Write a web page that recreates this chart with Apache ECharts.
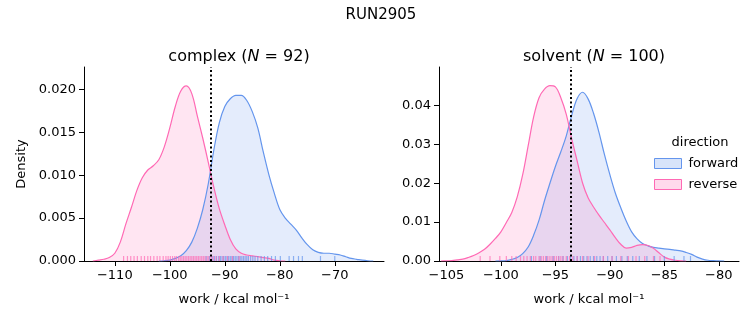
<!DOCTYPE html>
<html>
<head>
<meta charset="utf-8">
<script src="https://cdn.jsdelivr.net/npm/echarts@6/dist/echarts.min.js"></script>
<style>html,body{margin:0;padding:0;background:#fff}#c{width:753px;height:325px}</style>
</head>
<body>
<div id="c"></div>
<script>
// ---- data ----
// complex: density read at work = -114 ... -63 (step 1)
var complexWork = [-114,-113,-112,-111,-110,-109,-108,-107,-106,-105,-104,-103,-102,-101,-100,-99,-98,-97,-96,-95,-94,-93,-92,-91,-90,-89,-88,-87,-86,-85,-84,-83,-82,-81,-80,-79,-78,-77,-76,-75,-74,-73,-72,-71,-70,-69,-68,-67,-66,-65,-64,-63];
var complexReverse = [0,0.0001,0.0002,0.0004,0.0009,0.0022,0.0043,0.0062,0.0082,0.0097,0.0106,0.0111,0.0118,0.0133,0.0155,0.0180,0.0198,0.0204,0.0195,0.0169,0.0143,0.0115,0.0086,0.0061,0.0042,0.0025,0.0014,0.0009,0.0007,0.0006,0.0005,0.0004,0.0003,0.0001,0.00003,0,null,null,null,null,null,null,null,null,null,null,null,null,null,null,null,null];
var complexForward = [null,null,null,null,null,null,null,null,null,null,null,null,0,0.00003,0.0001,0.0003,0.0006,0.0012,0.0022,0.0038,0.0060,0.0090,0.0129,0.0161,0.0180,0.0189,0.0193,0.0193,0.0187,0.0174,0.0155,0.0127,0.0101,0.0079,0.0060,0.0050,0.0043,0.0036,0.0027,0.0019,0.0013,0.0010,0.0009,0.0009,0.0008,0.0007,0.0005,0.0003,0.0002,0.0001,0.00003,0];
// solvent: density read at work = -105.5 ... -79.5 (step 0.5)
var solventWork = [-105.5,-105,-104.5,-104,-103.5,-103,-102.5,-102,-101.5,-101,-100.5,-100,-99.5,-99,-98.5,-98,-97.5,-97,-96.5,-96,-95.5,-95,-94.5,-94,-93.5,-93,-92.5,-92,-91.5,-91,-90.5,-90,-89.5,-89,-88.5,-88,-87.5,-87,-86.5,-86,-85.5,-85,-84.5,-84,-83.5,-83,-82.5,-82,-81.5,-81,-80.5,-80,-79.5];
var solventReverse = [0,0.00005,0.0001,0.0003,0.0005,0.0009,0.0014,0.0021,0.0030,0.0043,0.0058,0.0075,0.0099,0.0125,0.0165,0.0222,0.0296,0.0370,0.0420,0.0442,0.0451,0.0448,0.0420,0.0377,0.0314,0.0257,0.0200,0.0163,0.0139,0.0118,0.0099,0.0080,0.0060,0.0043,0.0033,0.0035,0.0040,0.0042,0.0040,0.0033,0.0021,0.0010,0.0005,0.0002,0.00005,0,null,null,null,null,null,null,null];
var solventForward = [null,null,null,null,null,null,null,null,null,null,0,0.00003,0.0001,0.0004,0.0009,0.0019,0.0036,0.0066,0.0105,0.0155,0.0200,0.0243,0.0281,0.0322,0.0375,0.0418,0.0434,0.0417,0.0380,0.0331,0.0274,0.0222,0.0175,0.0137,0.0103,0.0075,0.0057,0.0045,0.0039,0.0035,0.0033,0.0031,0.0030,0.0028,0.0026,0.0022,0.0017,0.0010,0.0005,0.0002,0.0001,0.00003,0];

var complexReverseRug = [-108.4,-107.7,-107.1,-106.5,-105.9,-105.2,-104.6,-104.0,-103.5,-102.9,-102.3,-101.8,-101.2,-100.7,-100.3,-99.9,-99.5,-99.1,-98.8,-98.4,-98.1,-97.8,-97.5,-97.2,-96.9,-96.6,-96.3,-96.0,-95.7,-95.4,-95.1,-94.8,-94.5,-94.2,-93.9,-93.6,-93.2,-92.9,-92.5,-92.1,-91.6,-91.0,-90.3,-89.5,-88.6,-87.4];
var complexForwardRug = [-93.4,-92.8,-92.3,-91.9,-91.5,-91.1,-90.8,-90.5,-90.2,-89.9,-89.6,-89.3,-89.0,-88.7,-88.4,-88.1,-87.8,-87.5,-87.2,-86.9,-86.6,-86.3,-86.0,-85.7,-85.3,-84.9,-84.5,-84.0,-83.4,-82.8,-82.2,-81.5,-80.8,-79.9,-78.3,-77.5,-76.6,-75.9,-72.6,-70.0];
var solventReverseRug = [-101.9,-101.0,-100.1,-99.5,-99.0,-98.6,-98.2,-97.9,-97.6,-97.3,-97.0,-96.8,-96.5,-96.3,-96.1,-95.9,-95.7,-95.5,-95.3,-95.1,-94.9,-94.7,-94.5,-94.3,-94.0,-93.7,-93.4,-93.0,-92.5,-92.0,-91.4,-90.6,-89.8,-89.0,-88.3,-87.6,-86.8,-86.0,-85.4];
var solventForwardRug = [-97.2,-96.4,-95.8,-95.2,-94.7,-94.3,-93.9,-93.6,-93.3,-93.0,-92.7,-92.4,-92.1,-91.8,-91.5,-91.2,-90.9,-90.6,-90.2,-89.8,-89.4,-88.9,-88.4,-87.9,-87.3,-86.6,-85.9,-85.0,-84.1,-83.2,-82.6];

var complexMean = -92.55;
var solventMean = -93.62;

var complexXTicks = [-110,-100,-90,-80,-70];
var solventXTicks = [-105,-100,-95,-90,-85,-80];
var complexYTicks = [0,0.005,0.010,0.015,0.020];
var solventYTicks = [0,0.01,0.02,0.03,0.04];

// ---- chart ----
var BLUE = '#6495ED', PINK = '#FF69B4';
var FONT = 'DejaVu Sans';
var chart = echarts.init(document.getElementById('c'), null, {renderer:'canvas'});

function pairs(xs, ys){
  var out = [];
  for (var i = 0; i < xs.length; i++) if (ys[i] !== null) out.push([xs[i], ys[i]]);
  return out;
}
function rug(vals){ return vals.map(function(v){ return [v,0]; }); }

function xAxis(idx, min, max, ticks){
  return {
    type:'value', gridIndex:idx, min:min, max:max,
    name:'work / kcal mol\u207B\u00B9', nameLocation:'middle', nameGap:32,
    nameTextStyle:{fontFamily:FONT, fontSize:13, color:'#000'},
    axisLine:{show:true, onZero:false, lineStyle:{color:'#000', width:1}},
    axisTick:{show:true, length:5, lineStyle:{color:'#000', width:1}, customValues:ticks},
    axisLabel:{fontFamily:FONT, fontSize:13, color:'#000', margin:8, customValues:ticks,
      formatter:function(v){ return String(v).replace('-', '\u2212'); }},
    splitLine:{show:false}
  };
}
function yAxis(idx, max, ticks, dec, name){
  return {
    type:'value', gridIndex:idx, min:0, max:max,
    name:name, nameLocation:'middle', nameGap:56, nameRotate:90,
    nameTextStyle:{fontFamily:FONT, fontSize:13, color:'#000'},
    axisLine:{show:true, lineStyle:{color:'#000', width:1}},
    axisTick:{show:true, length:5, lineStyle:{color:'#000', width:1}, customValues:ticks},
    axisLabel:{fontFamily:FONT, fontSize:13, color:'#000', margin:8, customValues:ticks,
      formatter:function(v){ return v.toFixed(dec); }},
    splitLine:{show:false}
  };
}
function kde(name, data, color, idx, fill){
  return {
    type:'line', name:name, data:data, xAxisIndex:idx, yAxisIndex:idx,
    smooth:0.35, showSymbol:false, silent:true,
    lineStyle:{color:color, width:1.2}, itemStyle:{color:color},
    areaStyle:{color:fill}, z:2
  };
}
function rugSeries(name, vals, color, idx){
  return {
    type:'scatter', name:name, data:rug(vals), xAxisIndex:idx, yAxisIndex:idx,
    symbol:'rect', symbolSize:[1.2,5], symbolOffset:[0,-2.5], silent:true,
    itemStyle:{color:color, opacity:0.7}, z:3
  };
}
function meanLine(val, idx){
  return {
    type:'line', name:'mean'+idx, data:[], xAxisIndex:idx, yAxisIndex:idx, silent:true,
    markLine:{symbol:'none', silent:true, label:{show:false},
      lineStyle:{color:'#000', type:[2,2.5], width:2},
      data:[{xAxis:val}]}, z:5
  };
}
var BLUE_FILL = 'rgba(100,149,237,0.25)', PINK_FILL = 'rgba(255,105,180,0.25)';
var titleRich = {
  a:{fontFamily:FONT, fontSize:16, fontWeight:'normal', color:'#000'},
  i:{fontFamily:FONT, fontSize:16, fontWeight:'normal', fontStyle:'italic', color:'#000'}
};

var option = {
  animation:false,
  backgroundColor:'#fff',
  title:[
    {text:'RUN2905', left:376, top:3, textAlign:'center', textStyle:{fontFamily:FONT, fontSize:15, fontWeight:'normal', color:'#000'}},
    {text:'{a|complex (}{i|N}{a| = 92)}', left:234, top:44, textAlign:'center', textStyle:{fontWeight:'normal', rich:titleRich}},
    {text:'{a|solvent (}{i|N}{a| = 100)}', left:589, top:44, textAlign:'center', textStyle:{fontWeight:'normal', rich:titleRich}},
    {text:'direction', left:695, top:131, textAlign:'center', textStyle:{fontFamily:FONT, fontSize:13, fontWeight:'normal', color:'#000'}}
  ],
  legend:{
    orient:'vertical', left:649, top:152, itemWidth:27, itemHeight:10, itemGap:8,
    textStyle:{fontFamily:FONT, fontSize:13, color:'#000', padding:[0,0,0,2]},
    selectedMode:false,
    data:[
      {name:'forward', icon:'rect', itemStyle:{color:BLUE_FILL, borderColor:BLUE, borderWidth:1}, lineStyle:{opacity:0}},
      {name:'reverse', icon:'rect', itemStyle:{color:PINK_FILL, borderColor:PINK, borderWidth:1}, lineStyle:{opacity:0}}
    ]
  },
  grid:[
    {left:84, top:67, width:300, height:194},
    {left:439, top:67, width:300, height:194}
  ],
  xAxis:[ xAxis(0, -115.6, -61.05, complexXTicks), xAxis(1, -105.68, -78.15, solventXTicks) ],
  yAxis:[ yAxis(0, 0.0226, complexYTicks, 3, 'Density'), yAxis(1, 0.0499, solventYTicks, 2, '') ],
  series:[
    kde('forward', pairs(complexWork, complexForward), BLUE, 0, BLUE_FILL),
    kde('reverse', pairs(complexWork, complexReverse), PINK, 0, PINK_FILL),
    kde('forward', pairs(solventWork, solventForward), BLUE, 1, BLUE_FILL),
    kde('reverse', pairs(solventWork, solventReverse), PINK, 1, PINK_FILL),
    rugSeries('forward rug', complexForwardRug, BLUE, 0),
    rugSeries('reverse rug', complexReverseRug, PINK, 0),
    rugSeries('forward rug', solventForwardRug, BLUE, 1),
    rugSeries('reverse rug', solventReverseRug, PINK, 1),
    meanLine(complexMean, 0),
    meanLine(solventMean, 1)
  ]
};
chart.setOption(option);
</script>
</body>
</html>
